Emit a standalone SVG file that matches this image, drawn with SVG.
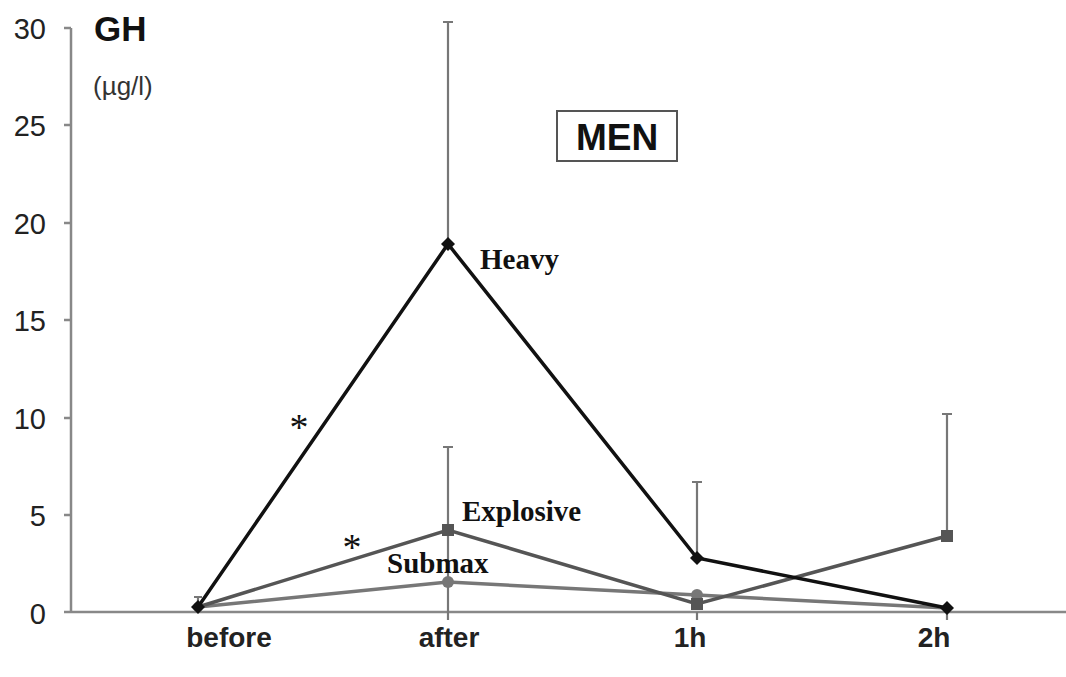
<svg xmlns="http://www.w3.org/2000/svg" width="1066" height="677" viewBox="0 0 1066 677">
<style>
.tick{font-family:"Liberation Sans",Arial,sans-serif;font-size:29px;fill:#222;text-anchor:end}
.cat{font-family:"Liberation Sans",Arial,sans-serif;font-size:28px;font-weight:bold;fill:#222;text-anchor:middle}
.lab{font-family:"Liberation Serif","Times New Roman",serif;font-size:29px;font-weight:bold;fill:#111}
.star{font-family:"Liberation Serif","Times New Roman",serif;font-size:38px;fill:#111;text-anchor:middle}
.axis{stroke:#888;stroke-width:2.5;fill:none}
.err{stroke:#777;stroke-width:2.2;fill:none}
</style>
<rect width="1066" height="677" fill="#fff"/>
<g id="axes">
<line class="axis" x1="71" y1="28" x2="71" y2="613"/>
<line class="axis" x1="64" y1="612" x2="1066" y2="612"/>
<path class="axis" d="M64 28H71M64 125H71M64 223H71M64 320H71M64 418H71M64 515H71"/>
<path class="err" d="M448 612V620M697 612V620M947 612V620"/>
<text class="tick" x="46" y="39">30</text>
<text class="tick" x="46" y="136">25</text>
<text class="tick" x="46" y="234">20</text>
<text class="tick" x="46" y="331">15</text>
<text class="tick" x="46" y="429">10</text>
<text class="tick" x="46" y="526">5</text>
<text class="tick" x="46" y="624">0</text>
<text class="cat" x="229" y="647">before</text>
<text class="cat" x="449" y="647">after</text>
<text class="cat" x="690" y="647">1h</text>
<text class="cat" x="934" y="647">2h</text>
<text x="94" y="41" font-family="Liberation Sans,Arial,sans-serif" font-size="35" font-weight="bold" fill="#111">GH</text>
<text x="93" y="95" font-family="Liberation Sans,Arial,sans-serif" font-size="26" fill="#333">(µg/l)</text>
</g>
<g id="men">
<rect x="557" y="111" width="120" height="50" fill="#fff" stroke="#555" stroke-width="2"/>
<text x="617" y="150" font-family="Liberation Sans,Arial,sans-serif" font-size="37" font-weight="bold" fill="#111" text-anchor="middle">MEN</text>
</g>
<g id="errorbars">
<path class="err" d="M448 244V22M443 22H453"/>
<path class="err" d="M198 607V597M194 597H202"/>
<path class="err" d="M697 558V482M692 482H702"/>
<path class="err" d="M448 530V447M443 447H453"/>
<path class="err" d="M947 536V414M942 414H952"/>
<path class="err" d="M448 530V612"/>
</g>
<g id="submax">
<polyline points="198,607 448,582 697,595 947,608" fill="none" stroke="#777" stroke-width="3.5"/>
<circle cx="448" cy="582" r="6" fill="#777"/>
<circle cx="697" cy="595" r="6" fill="#777"/>
<circle cx="198" cy="607" r="5" fill="#777"/>
<text class="lab" x="387" y="573">Submax</text>
</g>
<g id="explosive">
<polyline points="198,607 448,530 697,604 947,536" fill="none" stroke="#555" stroke-width="3.5"/>
<rect x="442" y="524" width="12" height="12" fill="#555"/>
<rect x="691" y="598" width="12" height="12" fill="#555"/>
<rect x="941" y="530" width="12" height="12" fill="#555"/>
<text class="lab" x="462" y="521">Explosive</text>
<text class="star" x="352" y="560">*</text>
</g>
<g id="heavy">
<polyline points="198,607 448,244 697,558 947,608" fill="none" stroke="#111" stroke-width="3.5"/>
<path d="M198 600L205 607L198 614L191 607Z" fill="#111"/>
<path d="M448 237L455 244L448 251L441 244Z" fill="#111"/>
<path d="M697 551L704 558L697 565L690 558Z" fill="#111"/>
<path d="M947 601L954 608L947 615L940 608Z" fill="#111"/>
<text class="lab" x="480" y="269">Heavy</text>
<text class="star" x="299" y="440">*</text>
</g>
</svg>
